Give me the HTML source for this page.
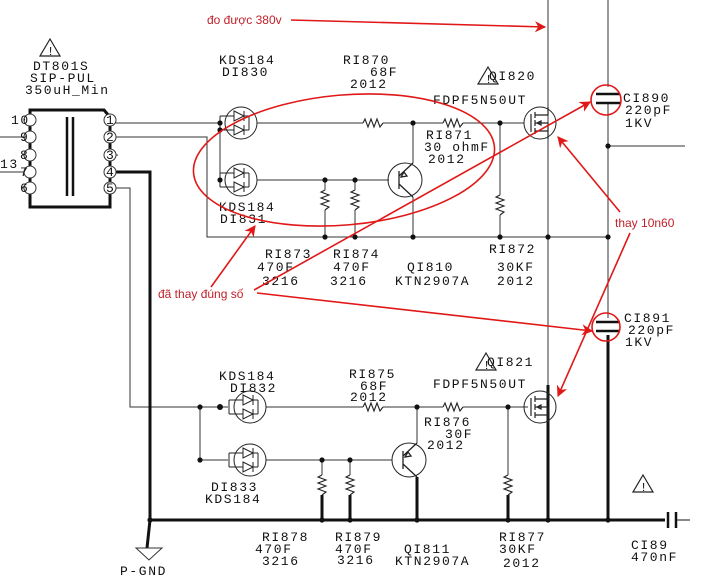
<!DOCTYPE html>
<html><head><meta charset="utf-8"><style>
html,body{margin:0;padding:0;background:#fff;}
svg{display:block}
.t{font-family:"Liberation Mono",monospace;font-size:13px;letter-spacing:1.6px;fill:#111}
.r{font-family:"Liberation Sans","DejaVu Sans",sans-serif;font-size:12px;fill:#c0202a}
.w{fill:none;stroke:#222;stroke-width:1.2}
</style></head><body>
<svg width="721" height="579" viewBox="0 0 721 579" xmlns="http://www.w3.org/2000/svg">
<defs>
<marker id="ah" viewBox="0 0 10 10" refX="9" refY="5" markerWidth="7" markerHeight="7" orient="auto"><path d="M0,0 L10,5 L0,10 L3,5 z" fill="#e01818"/></marker>
<g id="dp">
 <circle cx="0" cy="0" r="16" fill="none" stroke="#222" stroke-width="1"/>
 <path d="M-21,-7 H-7 M-21,7 H-7 M-21,-7 V7 M-7,-12 L3,-7 L-7,-2 z M-7,2 L3,7 L-7,12 z M3,-12 V-2 M3,2 V12 M3,-7 H8 M3,7 H8 M8,-7 V7" fill="none" stroke="#222" stroke-width="1"/>
</g>
<g id="mos">
 <circle cx="0" cy="0" r="16" fill="none" stroke="#222" stroke-width="1"/>
 <path d="M-9,-9 V9 M-5,-11 V-5 M-5,-3 V3 M-5,5 V11 M-5,-8 H8 V-16 M-5,8 H8 V16 M-5,0 H8 V8 M-3,0 L1,-2 L1,2 z" fill="none" stroke="#222" stroke-width="1.2"/>
</g>
<g id="bjt">
 <circle cx="0" cy="0" r="17" fill="none" stroke="#222" stroke-width="1"/>
 <path d="M-6,-9 V9 M-6,-4 L8,-17 M-6,4 L8,17 M-4,-3 L-1,-8 L2,-4 z" fill="none" stroke="#222" stroke-width="1.3"/>
</g>
<path id="rh" d="M-10,0 l2,-4 l3,8 l3,-8 l3,8 l3,-8 l3,8 l3,-4" fill="none" stroke="#222" stroke-width="1.1"/>
<path id="rv" d="M0,-10 l-4,2 l8,3 l-8,3 l8,3 l-8,3 l8,3 l-4,3" fill="none" stroke="#222" stroke-width="1.1"/>
<path id="wr" d="M0,-13 L-10,4 H10 Z" fill="none" stroke="#222" stroke-width="1.2"/>
</defs>

<g stroke="#333" stroke-width="1" fill="none">
 <path d="M30,207 V110 H104 L110,117 V207 Z" stroke="#111" stroke-width="3"/>
 <path d="M67,117 V196 M73,117 V196" stroke="#111" stroke-width="2.5"/>
 <path d="M0,137 H30 M0,172 H30 M22,155 H30 M22,188 H30 M110,155 H118"/>
 <path d="M110,123 H222 M257,123 H363 M383,123 H443 M463,123 H524"/>
 <path d="M110,137 H207 V237 H608"/>
 <path d="M220,123 V180 M257,180 H389"/>
 <path d="M413,123 V163 M413,197 V237"/>
 <path d="M325,180 V190 M325,210 V237 M355,180 V190 M355,210 V237"/>
 <path d="M500,123 V195 M500,215 V237"/>
 <path d="M548,0 V385 M608,0 V87 M608,104 V318"/>
 <path d="M608,146 H685"/>
 <path d="M110,188 H130 V407 H228 M266,407 H363 M383,407 H443 M463,407 H528"/>
 <path d="M200,407 V460 H228 M266,460 H392"/>
 <path d="M417,407 V443 M322,460 V475 M350,460 V475 M508,407 V475"/>
</g>
<g stroke="#111" stroke-width="3" fill="none">
 <path d="M110,172 H150 V520 H665 M150,520 L147,548"/>
 <path d="M548,385 V520 M608,335 V520 M417,477 V520 M322,495 V520 M350,495 V520 M508,495 V520"/>
 <path d="M668,512 V528 M676,512 V528" stroke-width="2.5"/>
 <path d="M676,520 H690" stroke-width="1"/>
</g>
<path d="M136,548 H162 L149,560 Z" fill="none" stroke="#333"/>
<path d="M596,94 H620 M596,103 H620 M596,322 H620 M596,331 H620" stroke="#111" stroke-width="2.5"/>
<use href="#dp" x="241" y="123"/><use href="#dp" x="241" y="180"/>
<use href="#dp" x="250" y="407"/><use href="#dp" x="250" y="460"/>
<use href="#rh" x="373" y="123"/><use href="#rh" x="453" y="123"/>
<use href="#rh" x="373" y="407"/><use href="#rh" x="453" y="407"/>
<use href="#rv" x="325" y="200"/><use href="#rv" x="355" y="200"/><use href="#rv" x="500" y="205"/>
<use href="#rv" x="322" y="485"/><use href="#rv" x="350" y="485"/><use href="#rv" x="508" y="485"/>
<use href="#bjt" x="405" y="180"/><use href="#bjt" x="409" y="460"/>
<use href="#mos" x="540" y="123"/><use href="#mos" x="540" y="407"/>
<g fill="#fff" stroke="#333">
 <circle cx="30" cy="120" r="6"/><circle cx="30" cy="137" r="6"/><circle cx="30" cy="155" r="6"/><circle cx="30" cy="172" r="6"/><circle cx="30" cy="188" r="6"/>
 <circle cx="110" cy="120" r="6"/><circle cx="110" cy="137" r="6"/><circle cx="110" cy="155" r="6"/><circle cx="110" cy="172" r="6"/><circle cx="110" cy="188" r="6"/>
</g>
<g fill="#111">
 <circle cx="220" cy="123" r="2.6"/><circle cx="220" cy="130" r="2.6"/><circle cx="220" cy="180" r="2.6"/>
 <circle cx="325" cy="180" r="2.6"/><circle cx="355" cy="180" r="2.6"/><circle cx="413" cy="123" r="2.6"/><circle cx="500" cy="123" r="2.6"/>
 <circle cx="325" cy="237" r="2.6"/><circle cx="355" cy="237" r="2.6"/><circle cx="413" cy="237" r="2.6"/><circle cx="500" cy="237" r="2.6"/><circle cx="548" cy="237" r="2.6"/><circle cx="608" cy="237" r="2.6"/><circle cx="608" cy="146" r="2.6"/>
 <circle cx="200" cy="407" r="2.6"/><circle cx="220" cy="407" r="3"/><circle cx="200" cy="460" r="2.6"/>
 <circle cx="322" cy="460" r="2.6"/><circle cx="350" cy="460" r="2.6"/><circle cx="417" cy="407" r="2.6"/><circle cx="508" cy="407" r="2.6"/>
 <circle cx="150" cy="520" r="2.6"/><circle cx="322" cy="520" r="2.6"/><circle cx="350" cy="520" r="2.6"/><circle cx="417" cy="520" r="2.6"/><circle cx="508" cy="520" r="2.6"/><circle cx="548" cy="520" r="2.6"/><circle cx="608" cy="520" r="2.6"/>
</g>
<use href="#wr" x="50" y="52"/><use href="#wr" x="488" y="80"/><use href="#wr" x="486" y="366"/><use href="#wr" x="643" y="488"/>
<g class="t">
 <text x="47" y="55" font-size="12">!</text><text x="485" y="83" font-size="12">!</text><text x="483" y="369" font-size="12">!</text><text x="640" y="491" font-size="12">!</text>
 <text x="33" y="70">DT801S</text><text x="30" y="82">SIP-PUL</text><text x="25" y="94">350uH_Min</text>
 <text x="11" y="124">10</text><text x="20" y="141">9</text><text x="20" y="159">8</text><text x="0" y="168">13</text><text x="20" y="176">7</text><text x="20" y="192">6</text>
 <text x="106" y="124">1</text><text x="106" y="141">2</text><text x="106" y="159">3</text><text x="106" y="176">4</text><text x="106" y="192">5</text>
 <text x="219" y="64">KDS184</text><text x="222" y="76">DI830</text>
 <text x="343" y="64">RI870</text><text x="370" y="76">68F</text><text x="350" y="88">2012</text>
 <text x="426" y="139">RI871</text><text x="424" y="151">30 ohmF</text><text x="428" y="163">2012</text>
 <text x="489" y="80">QI820</text><text x="433" y="104">FDPF5N50UT</text>
 <text x="219" y="211">KDS184</text><text x="220" y="223">DI831</text>
 <text x="265" y="258">RI873</text><text x="257" y="271">470F</text><text x="262" y="285">3216</text>
 <text x="333" y="258">RI874</text><text x="333" y="271">470F</text><text x="330" y="285">3216</text>
 <text x="407" y="271">QI810</text><text x="395" y="285">KTN2907A</text>
 <text x="489" y="253">RI872</text><text x="497" y="271">30KF</text><text x="497" y="285">2012</text>
 <text x="623" y="102">CI890</text><text x="625" y="114">220pF</text><text x="625" y="127">1KV</text>
 <text x="624" y="322">CI891</text><text x="628" y="334">220pF</text><text x="625" y="346">1KV</text>
 <text x="219" y="380">KDS184</text><text x="230" y="392">DI832</text>
 <text x="349" y="378">RI875</text><text x="360" y="390">68F</text><text x="350" y="401">2012</text>
 <text x="487" y="366">QI821</text><text x="433" y="388">FDPF5N50UT</text>
 <text x="424" y="426">RI876</text><text x="445" y="438">30F</text><text x="427" y="449">2012</text>
 <text x="211" y="491">DI833</text><text x="205" y="503">KDS184</text>
 <text x="262" y="541">RI878</text><text x="255" y="553">470F</text><text x="262" y="565">3216</text>
 <text x="335" y="541">RI879</text><text x="335" y="553">470F</text><text x="337" y="564">3216</text>
 <text x="404" y="553">QI811</text><text x="395" y="565">KTN2907A</text>
 <text x="499" y="541">RI877</text><text x="499" y="553">30KF</text><text x="503" y="567">2012</text>
 <text x="120" y="575">P-GND</text>
 <text x="631" y="549">CI89</text><text x="631" y="561">470nF</text>
</g>
<g stroke="#e01818" stroke-width="1.6" fill="none">
 <ellipse cx="344" cy="160" rx="151" ry="65" transform="rotate(-5 344 160)"/>
 <circle cx="606" cy="100" r="15"/><circle cx="606" cy="327" r="14"/>
 <path d="M291,20 L545,27" marker-end="url(#ah)"/>
 <path d="M211,287 L255,226" marker-end="url(#ah)"/>
 <path d="M254,290 L590,102" marker-end="url(#ah)"/>
 <path d="M257,293 L592,331" marker-end="url(#ah)"/>
 <path d="M620,212 L558,137" marker-end="url(#ah)"/>
 <path d="M630,233 L558,396" marker-end="url(#ah)"/>
</g>
<text class="r" x="207" y="24">đo được 380v</text>
<text class="r" x="158" y="298">đã thay đúng số</text>
<text class="r" x="615" y="227">thay 10n60</text>
</svg>
</body></html>
